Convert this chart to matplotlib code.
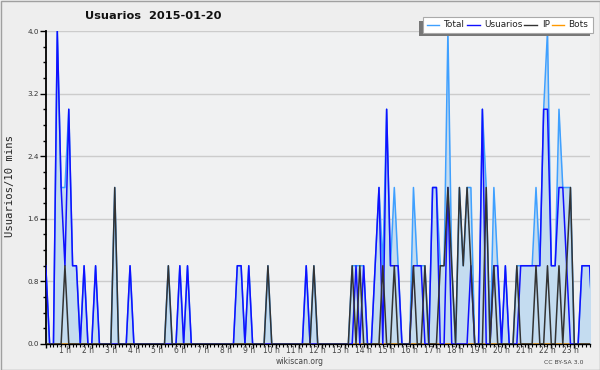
import numpy as np
import matplotlib.pyplot as plt
from matplotlib.patches import Rectangle

# 10-minute slots, 6 per hour
usuarios = [1, 0, 0, 4, 2, 1,  3, 1, 1, 0, 1, 0,  0, 1, 0, 0, 0, 0,  0, 0, 0, 0, 1, 0,
            0, 0, 0, 0, 0, 0,  0, 0, 0, 0, 0, 1,  0, 1, 0, 0, 0, 0,  0, 0, 0, 0, 0, 0,
            0, 0, 1, 1, 0, 1,  0, 0, 0, 0, 0, 0,  0, 0, 0, 0, 0, 0,  0, 0, 1, 0, 0, 0,
            0, 0, 0, 0, 0, 0,  0, 0, 0, 1, 0, 1,  0, 0, 1, 2, 0, 3,  1, 1, 1, 0, 0, 0,
            1, 1, 1, 0, 0, 2,  2, 0, 0, 2, 0, 0,  0, 0, 0, 1, 0, 0,  3, 0, 0, 1, 1, 0,
            1, 0, 0, 0, 1, 1,  1, 1, 1, 1, 3, 3,  1, 1, 2, 2, 1, 0,  0, 0, 1, 1, 1, 0]
ip = [0, 0, 0, 0, 0, 1,  0, 0, 0, 0, 0, 0,  0, 0, 0, 0, 0, 0,  2, 0, 0, 0, 0, 0,
      0, 0, 0, 0, 0, 0,  0, 0, 1, 0, 0, 0,  0, 0, 0, 0, 0, 0,  0, 0, 0, 0, 0, 0,
      0, 0, 0, 0, 0, 0,  0, 0, 0, 0, 1, 0,  0, 0, 0, 0, 0, 0,  0, 0, 0, 0, 1, 0,
      0, 0, 0, 0, 0, 0,  0, 0, 1, 0, 1, 0,  0, 0, 0, 0, 1, 0,  0, 1, 0, 0, 0, 0,
      1, 0, 0, 1, 0, 0,  0, 1, 1, 2, 1, 0,  2, 1, 2, 1, 0, 0,  0, 2, 0, 1, 0, 0,
      0, 0, 0, 1, 0, 0,  0, 0, 1, 0, 0, 1,  0, 0, 1, 0, 1, 2,  0, 0, 0, 0, 0, 0]
total = [1, 0, 0, 4, 2, 2,  3, 1, 1, 0, 1, 0,  0, 1, 0, 0, 0, 0,  2, 0, 0, 0, 1, 0,
         0, 0, 0, 0, 0, 0,  0, 0, 1, 0, 0, 1,  0, 1, 0, 0, 0, 0,  0, 0, 0, 0, 0, 0,
         0, 0, 1, 1, 0, 1,  0, 0, 0, 0, 1, 0,  0, 0, 0, 0, 0, 0,  0, 0, 1, 0, 1, 0,
         0, 0, 0, 0, 0, 0,  0, 0, 1, 1, 1, 1,  0, 0, 1, 2, 1, 3,  1, 2, 1, 0, 0, 0,
         2, 1, 1, 1, 0, 2,  2, 1, 1, 4, 1, 0,  2, 1, 2, 2, 0, 0,  3, 2, 0, 2, 1, 0,
         1, 0, 0, 1, 1, 1,  1, 1, 2, 1, 3, 4,  1, 1, 3, 2, 2, 2,  0, 0, 1, 1, 1, 0]
bots = [0] * 144
hours = list(range(1, 24))
yticks = [0.0, 0.8, 1.6, 2.4, 3.2, 4.0]

x = np.arange(len(total))

fig = plt.figure(figsize=(6, 3.7), dpi=100, facecolor='#eeeeee')
ax = fig.add_axes([45.8 / 600, 26 / 370, 544.2 / 600, 313 / 370])
ax.set_facecolor('#f0f1f2')

ax.fill_between(x, total, color='#c4dcf0', lw=0, zorder=1)
ax.plot(x, bots, color='#ff9900', lw=1.1, zorder=1.5)
ax.plot(x, total, color='#3fa0ff', lw=1.1, zorder=2)
ax.plot(x, usuarios, color='#1010ff', lw=1.1, zorder=3)
ax.plot(x, ip, color='#333333', lw=1.1, zorder=4)

ax.set_xlim(0, 142.1)
ax.set_ylim(0, 4.0)
ax.set_yticks(yticks)
ax.set_yticklabels(['%.1f' % v for v in yticks], fontsize=5.2, color='#333333')
ax.set_yticks(np.arange(0, 4.01, 0.2), minor=True)
ax.grid(axis='y', color='#cccccc', lw=1, zorder=0)
ax.set_axisbelow(True)
ax.tick_params(axis='y', which='major', length=4.3, width=1, pad=0.5, color='black')
ax.tick_params(axis='y', which='minor', length=2.2, width=1, color='black')

ax.set_xticks(np.arange(0, 143, 6))
ax.set_xticks(np.arange(0, 143, 1), minor=True)
ax.set_xticklabels([])
ax.tick_params(axis='x', which='major', length=2.6, width=1, color='black')
ax.tick_params(axis='x', which='minor', length=2.2, width=0.8, color='black')
for h in hours:
    ax.text(6 * h - 1, -0.022, '%d h' % h, transform=ax.get_xaxis_transform(),
            ha='center', va='center', fontsize=5.5, color='#444444')

for s in ['top', 'right']:
    ax.spines[s].set_visible(False)
ax.spines['left'].set_linewidth(1.3)
ax.spines['bottom'].set_linewidth(1)

# overlay in pixel coordinates for title, legend and notes
ov = fig.add_axes([0, 0, 1, 1], zorder=10)
ov.set_xlim(0, 600)
ov.set_ylim(370, 0)
ov.axis('off')
ov.patch.set_alpha(0)

ov.add_patch(Rectangle((0.5, 0.5), 599, 369, fill=False, ec='#a0a0a0', lw=1))
ov.text(85, 16.2, 'Usuarios  2015-01-20', fontsize=8.2, fontweight='bold',
        ha='left', va='center', color='#111111')
ov.text(10, 186, 'Usuarios/10 mins', rotation=90, family='DejaVu Sans Mono',
        fontsize=7.6, ha='center', va='center', color='#222222')
ov.text(300, 361, 'wikiscan.org', fontsize=5.5, ha='center', va='center', color='#444444')
ov.text(583, 362, 'CC BY-SA 3.0', fontsize=4.4, ha='right', va='center', color='#444444')

# legend box
ov.add_patch(Rectangle((419, 20.5), 171, 15.5, fc='#777777', ec='none'))
ov.add_patch(Rectangle((422.7, 17.3), 170.6, 15.4, fc='white', ec='#aaaaaa', lw=0.8))
legend_items = [('Total', '#3fa0ff', 426.7, 442.7),
                ('Usuarios', '#1010ff', 467, 484),
                ('IP', '#333333', 524, 542),
                ('Bots', '#ff9900', 551.7, 568.3)]
for name, col, lx, tx in legend_items:
    ov.plot([lx, lx + 12.5], [24.8, 24.8], color=col, lw=1)
    ov.text(tx, 24.8, name, fontsize=6.4, ha='left', va='center', color='#222222')

fig.savefig('out.png', dpi=100, facecolor=fig.get_facecolor())
